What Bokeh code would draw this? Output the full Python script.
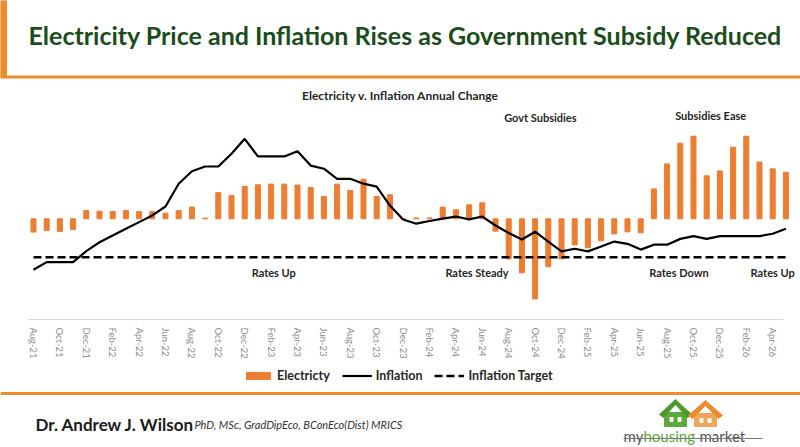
import math
from bokeh.plotting import figure
from bokeh.models import Range1d, Label, Legend, LegendItem, ColumnDataSource
from bokeh.core.properties import value
from bokeh.embed import file_html
from bokeh.resources import INLINE

# ---------------- data ----------------
months = ["Aug-21", "Sep-21", "Oct-21", "Nov-21", "Dec-21",
          "Jan-22", "Feb-22", "Mar-22", "Apr-22", "May-22", "Jun-22", "Jul-22", "Aug-22", "Sep-22", "Oct-22", "Nov-22", "Dec-22",
          "Jan-23", "Feb-23", "Mar-23", "Apr-23", "May-23", "Jun-23", "Jul-23", "Aug-23", "Sep-23", "Oct-23", "Nov-23", "Dec-23",
          "Jan-24", "Feb-24", "Mar-24", "Apr-24", "May-24", "Jun-24", "Jul-24", "Aug-24", "Sep-24", "Oct-24", "Nov-24", "Dec-24",
          "Jan-25", "Feb-25", "Mar-25", "Apr-25", "May-25", "Jun-25", "Jul-25", "Aug-25", "Sep-25", "Oct-25", "Nov-25", "Dec-25",
          "Jan-26", "Feb-26", "Mar-26", "Apr-26", "May-26"]

electricity = [-5.9, -5.2, -5.6, -4.8, 3.7,
               3.4, 3.2, 3.7, 3.2, 3.2, 2.5, 3.7, 5.2, 0.3, 11.6, 10.4, 14.4,
               15.1, 15.4, 15.4, 15.0, 13.9, 9.9, 15.4, 12.6, 17.6, 9.9, 10.7, 0.0,
               0.4, 0.4, 5.2, 4.0, 6.2, 7.1, -5.5, -17.8, -24.0, -35.6, -21.3, -17.8,
               -11.6, -12.9, -9.8, -6.7, -5.8, -6.2, 13.3, 24.4, 33.6, 36.7, 19.1, 21.3,
               31.8, 36.7, 25.2, 22.2, 20.7]

inflation = [1.94, 2.28, 2.28, 2.28, 2.77,
             3.17, 3.47, 3.77, 4.07, 4.37, 4.77, 5.79, 6.35, 6.56, 6.56, 7.13, 7.80,
             7.01, 7.01, 7.01, 7.24, 6.60, 6.46, 6.01, 6.01, 5.79, 5.66, 4.81, 4.19,
             4.00, 4.12, 4.23, 4.32, 4.19, 4.32, 3.92, 3.58, 3.29, 3.64, 3.20, 2.76,
             2.88, 2.76, 2.98, 3.20, 3.10, 2.84, 3.06, 3.06, 3.32, 3.44, 3.32, 3.44,
             3.44, 3.44, 3.44, 3.55, 3.77]

inflation_target = 2.5
tick_step = 2

title_text = "Electricity Price and Inflation Rises as Government Subsidy Reduced"
subtitle_text = "Electricity v. Inflation Annual Change"
author_text = "Dr. Andrew J. Wilson"
credentials_text = "PhD, MSc, GradDipEco, BConEco(Dist) MRICS"

# ---------------- style ----------------
FONT = "Lato"
ORANGE = "#ED7D31"
FRAME_ORANGE = "#EE8B2E"
GREEN_TITLE = "#1B4D1B"
W, H = 800, 447

# One figure whose frame is the whole canvas.
# Default ranges: month index (x), electricity % (y). Extra: inflation % and a pixel frame for decoration.
p = figure(width=W, height=H,
           x_range=Range1d(-2.5, 58.106), y_range=Range1d(-101.64, 97.02),
           min_border=0, toolbar_location=None, output_backend="svg",
           x_axis_location=None, y_axis_location=None)
p.extra_y_ranges = {"infl": Range1d(-6.018, 13.99), "px": Range1d(H, 0)}
p.extra_x_ranges = {"px": Range1d(0, W)}
p.grid.visible = False
p.outline_line_color = None
p.background_fill_color = "white"

PX = dict(x_range_name="px", y_range_name="px")

# ---------------- header decoration ----------------
p.quad(left=0, right=6, top=0, bottom=77, color=FRAME_ORANGE, **PX)
p.line([0, W], [76.5, 76.5], line_width=3, color=FRAME_ORANGE, **PX)
p.text(x=[405], y=[34], text=[title_text], text_align="center", text_baseline="middle",
       text_font=value(FONT), text_font_style="bold", text_font_size="25px",
       text_color=GREEN_TITLE, **PX)
p.line([0, W], [393, 393], line_width=3, color=FRAME_ORANGE, **PX)

# ---------------- chart ----------------
x = list(range(len(months)))
src = ColumnDataSource(dict(x=x, elec=electricity, infl=inflation, month=months))

bars = p.vbar(x="x", top="elec", width=0.38, color=ORANGE, source=src)
infl_line = p.line("x", "infl", y_range_name="infl", color="black", line_width=2.2, source=src)
target_line = p.line([x[0], x[-1]], [inflation_target, inflation_target], y_range_name="infl",
                     color="black", line_width=2.5, line_dash="8 4")

# category axis (line + rotated month labels)
ticks = x[::tick_step]
p.line([28, 783], [319, 319], line_width=1, color="#D9D9D9", **PX)
p.text(x=ticks, y=[327] * len(ticks), text=[months[t] for t in ticks], angle=-math.pi / 2,
       text_align="left", text_baseline="middle", text_font=value(FONT), text_font_size="9.5px",
       text_color="#8C8C8C", y_range_name="px")

ann_style = dict(text_font=FONT, text_font_style="bold", text_font_size="11px",
                 text_color="#262626", text_align="center", text_baseline="middle")
p.add_layout(Label(x=27.8, y=54.8, text=subtitle_text, text_font=FONT, text_font_style="bold",
                   text_font_size="12px", text_color="#262626", text_align="center",
                   text_baseline="middle"))
p.add_layout(Label(x=38.4, y=45.0, text="Govt Subsidies", **ann_style))
p.add_layout(Label(x=51.3, y=45.9, text="Subsidies Ease", **ann_style))
p.add_layout(Label(x=18.2, y=-23.9, text="Rates Up", **ann_style))
p.add_layout(Label(x=33.6, y=-23.9, text="Rates Steady", **ann_style))
p.add_layout(Label(x=48.9, y=-23.9, text="Rates Down", **ann_style))
p.add_layout(Label(x=56.0, y=-23.9, text="Rates Up", **ann_style))

legend = Legend(items=[LegendItem(label="Electricty", renderers=[bars]),
                       LegendItem(label="Inflation", renderers=[infl_line]),
                       LegendItem(label="Inflation Target", renderers=[target_line])],
                orientation="horizontal", location=(243, 64),
                border_line_color=None, background_fill_alpha=0,
                label_text_font=FONT, label_text_font_style="bold", label_text_font_size="12.5px",
                label_text_color="#262626", glyph_width=30, glyph_height=9, spacing=12,
                label_standoff=4, padding=2, margin=0)
p.add_layout(legend, "center")

# ---------------- footer ----------------
p.text(x=[35], y=[424], text=[author_text], text_font=value(FONT), text_font_style="bold",
       text_font_size="17px", text_color="#1A1A1A", text_baseline="alphabetic", **PX)
p.text(x=[194], y=[424], text=[credentials_text], text_font=value(FONT), text_font_style="italic",
       text_font_size="11px", text_color="#333333", text_baseline="alphabetic", **PX)

# logo (decoration, pixel frame)
p.patch([664, 664, 686, 686], [426, 412, 412, 426], color="#5DAA3C", **PX)
p.patch([659, 675, 691, 687, 675, 663], [414, 399, 414, 417, 404, 417], color="#4C9A2E", **PX)
p.patch([694, 694, 716, 716], [426, 413, 413, 426], color="#F2A65A", **PX)
p.patch([688, 705, 722, 718, 705, 692], [415, 400, 415, 418, 405, 418], color=FRAME_ORANGE, **PX)
p.rect([671, 679, 701, 709], [419, 419, 420, 420], width=3, height=4, color="white", **PX)
p.text(x=[623], y=[435], text=["my"], text_font=value(FONT), text_font_size="15px",
       text_color="#555555", text_baseline="alphabetic", **PX)
p.text(x=[643], y=[435], text=["housing"], text_font=value(FONT), text_font_size="15px",
       text_color="#5DAA3C", text_baseline="alphabetic", **PX)
p.text(x=[699], y=[435], text=["market"], text_font=value(FONT), text_font_size="15px",
       text_color="#555555", text_baseline="alphabetic", **PX)
p.line([623, 762], [438, 438], line_width=1, color="#777777", **PX)

open("out.html", "w").write(file_html(p, INLINE))
